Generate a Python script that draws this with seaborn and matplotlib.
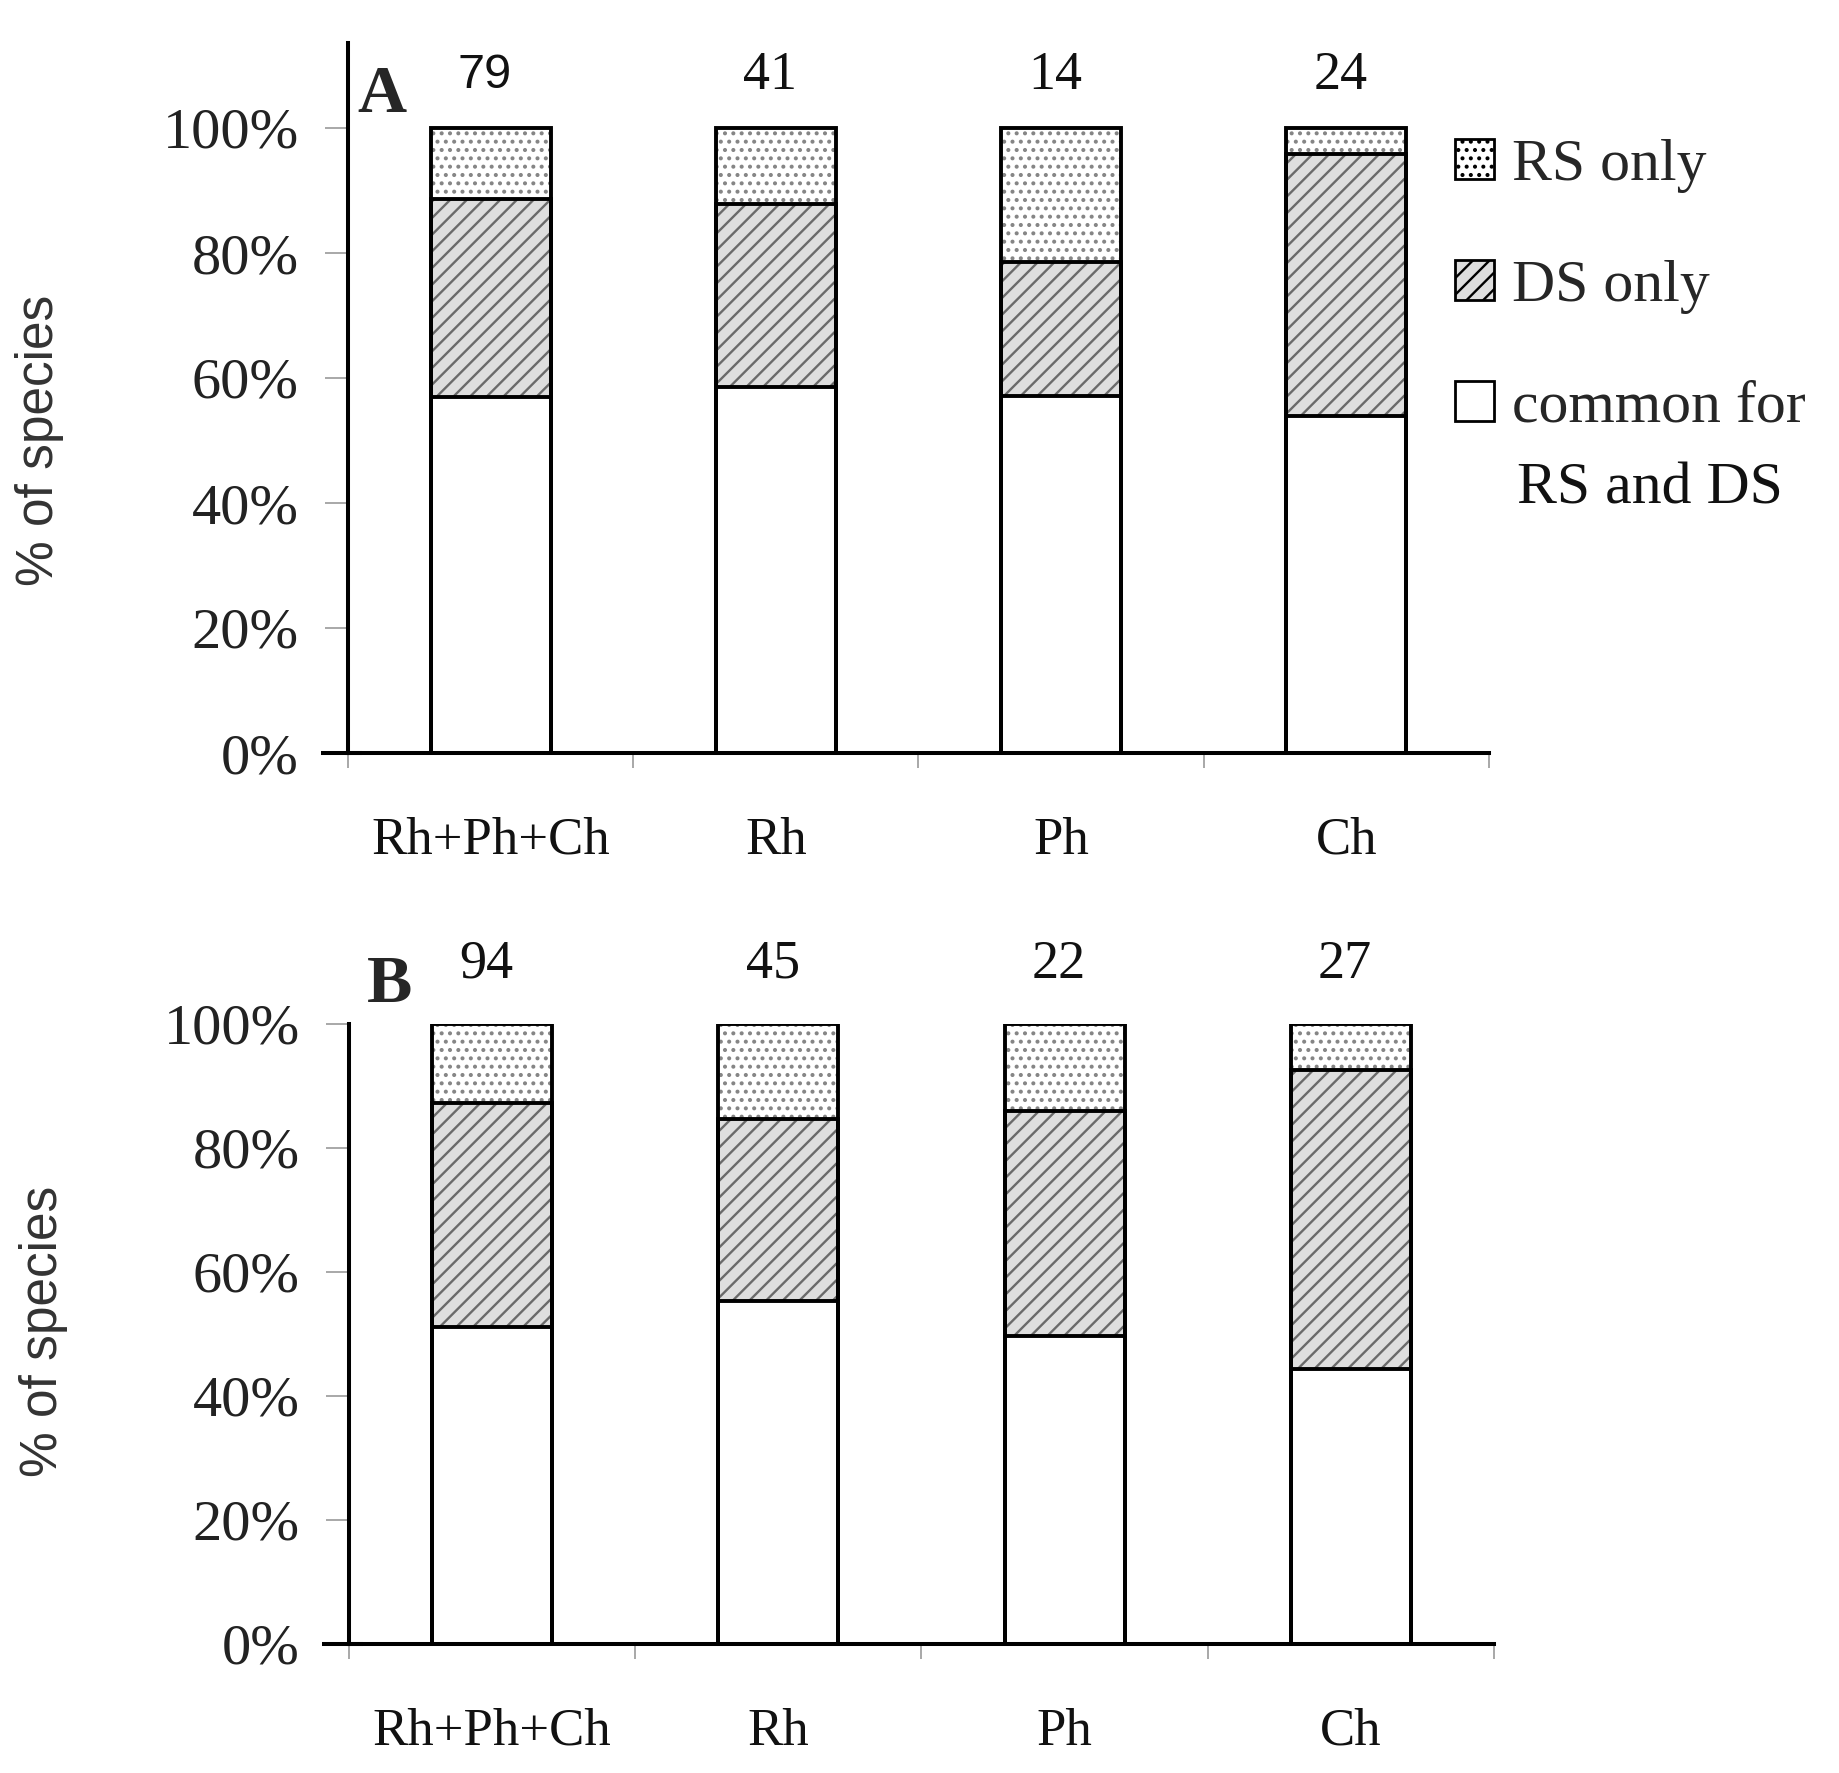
import numpy as np
import pandas as pd
import matplotlib
matplotlib.use('Agg')
import matplotlib.pyplot as plt
import matplotlib.patches as mpatches
import seaborn as sns

# categories on the x axis
categories = ['Rh+Ph+Ch', 'Rh', 'Ph', 'Ch']

# panel A, % of species
a_common = [57.0, 58.5, 57.1, 54.0]
a_ds = [31.7, 29.4, 21.5, 41.9]
a_rs = [11.3, 12.1, 21.4, 4.1]
a_n = [79, 41, 14, 24]

# panel B, % of species
b_common = [51.1, 55.3, 49.6, 44.4]
b_ds = [36.1, 29.3, 36.4, 48.2]
b_rs = [12.8, 15.4, 14.0, 7.4]
b_n = [94, 45, 22, 27]

y_ticks = [0, 20, 40, 60, 80, 100]
y_ticklabels = [f'{v}%' for v in y_ticks]

W, H = 1840, 1773
SERIF = 'Liberation Serif'
SANS = 'Liberation Sans'

sns.set_theme(style='white')
plt.rcParams['font.family'] = [SERIF, 'DejaVu Serif']
plt.rcParams['hatch.linewidth'] = 1.7

fig = plt.figure(figsize=(W / 100, H / 100), dpi=100)


def fx(px):
    return px / W


def fy(py):
    return 1 - py / H


def draw_panel(ax, common, ds, rs, counts, ytop, count_y, count_fonts):
    df = pd.DataFrame({'group': categories, 'common': common, 'ds': ds, 'rs': rs})
    df['top_ds'] = df['common'] + df['ds']
    df['top_rs'] = df['top_ds'] + df['rs']

    # filled layers (hatch colour follows edge colour, so outlines are drawn after)
    layers = [('top_rs', 'white', '..', '#858585'),
              ('top_ds', '#dedede', '//', '#6a6a6a'),
              ('common', 'white', None, 'white')]
    for col, fc, hatch, hc in layers:
        n0 = len(ax.patches)
        sns.barplot(data=df, x='group', y=col, order=categories, color=fc,
                    saturation=1, width=0.42, errorbar=None, ax=ax)
        for p in ax.patches[n0:]:
            p.set_facecolor(fc)
            p.set_edgecolor(hc)
            p.set_linewidth(0)
            if hatch:
                p.set_hatch(hatch)

    # black outlines for every segment
    for col in ['top_rs', 'top_ds', 'common']:
        n0 = len(ax.patches)
        sns.barplot(data=df, x='group', y=col, order=categories, color='white',
                    saturation=1, width=0.42, errorbar=None, ax=ax)
        for p in ax.patches[n0:]:
            p.set_facecolor('none')
            p.set_edgecolor('black')
            p.set_linewidth(2.8)

    ax.set_xlim(-0.5, 3.5)
    ax.set_ylim(0, ytop)
    ax.set_xlabel('')

    ax.set_yticks(y_ticks)
    ax.set_yticklabels(y_ticklabels, fontsize=42, color='#222')
    ax.set_xticks(range(len(categories)))
    ax.set_xticklabels(categories, fontsize=38, color='#111')
    ax.set_xticks(np.arange(-0.5, len(categories), 1.0), minor=True)
    ax.tick_params(axis='x', which='major', length=0, pad=46)
    ax.tick_params(axis='x', which='minor', length=11, width=1.2, color='#9a9a9a',
                   direction='out', bottom=True)
    ax.tick_params(axis='y', length=16.5, width=1.2, color='#9a9a9a',
                   direction='out', left=True, pad=19)

    for s in ['top', 'right']:
        ax.spines[s].set_visible(False)
    for s in ['left', 'bottom']:
        ax.spines[s].set_linewidth(2.9)
        ax.spines[s].set_color('black')
    # the base line runs a little past the y axis on the left
    ax.plot([-0.5 - 27 / 285, -0.45], [0, 0], color='black', lw=2.9,
            clip_on=False, zorder=5, solid_capstyle='butt', scalex=False, scaley=False)

    ax.set_ylabel('% of species', fontfamily=SANS, fontsize=37, color='#333')

    for i, n in enumerate(counts):
        fam = count_fonts[i]
        size = 35 if fam == SANS else 39
        ax.text(i - 0.02, count_y, str(n), ha='center', va='center',
                fontfamily=fam, fontsize=size, color='#111', clip_on=False)


ax_a = fig.add_axes([fx(348), fy(753), fx(1489 - 348), (753 - 43) / H])
draw_panel(ax_a, a_common, a_ds, a_rs, a_n, (753 - 43) / 6.25, 108.4,
           [SANS, SERIF, SERIF, SERIF])
ax_a.yaxis.set_label_coords(-0.249, 0.44)

ax_b = fig.add_axes([fx(349), fy(1644), fx(1494 - 349), (1644 - 1024) / H])
draw_panel(ax_b, b_common, b_ds, b_rs, b_n, 100, 109.6,
           [SERIF, SERIF, SERIF, SERIF])
ax_b.yaxis.set_label_coords(-0.245, 0.505)

# panel letters
fig.text(fx(357), fy(112), 'A', fontsize=49, fontweight='bold', va='baseline', ha='left')
fig.text(fx(367), fy(1002), 'B', fontsize=49, fontweight='bold', va='baseline', ha='left')

# legend
handles = [mpatches.Patch(facecolor='white', edgecolor='black', hatch='..', linewidth=2),
           mpatches.Patch(facecolor='#dedede', edgecolor='black', hatch='//', linewidth=2),
           mpatches.Patch(facecolor='white', edgecolor='black', linewidth=2)]
labels = ['RS only', 'DS only', 'common for']
fig.legend(handles, labels, loc='upper left', bbox_to_anchor=(fx(1455), fy(139)),
           frameon=False, fontsize=43, handlelength=0.65, handleheight=0.65,
           handletextpad=0.3, labelspacing=1.12, borderpad=0, borderaxespad=0)
fig.text(fx(1517), fy(503), 'RS and DS', fontsize=43, va='baseline', ha='left', color='#111')

fig.savefig('out.png', dpi=100)
